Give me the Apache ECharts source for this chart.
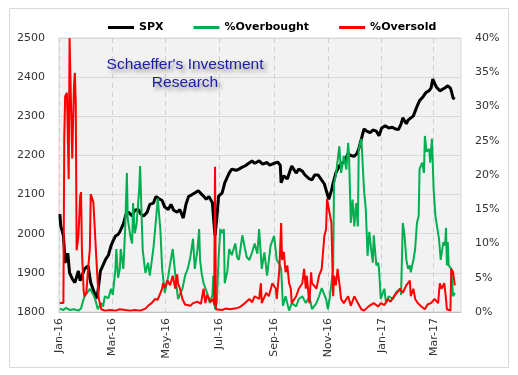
<!DOCTYPE html>
<html><head><meta charset="utf-8">
<script src="https://cdn.jsdelivr.net/npm/echarts@6/dist/echarts.min.js"></script>
<style>html,body{margin:0;padding:0;background:#fff}#c{width:518px;height:375px}</style>
</head><body><div id="c"></div>
<script>
// Days counted from 2016-01-01
const startDate = '2016-01-01';
const endDate = '2017-04-01';
const tickDates = ['2016-01-01','2016-03-01','2016-05-01','2016-07-01','2016-09-01','2016-11-01','2017-01-01','2017-03-01'];
const monthNames = ['Jan','Feb','Mar','Apr','May','Jun','Jul','Aug','Sep','Oct','Nov','Dec'];
const seriesNames = ['SPX','%Overbought','%Oversold'];

const spxDays = [1,2,5,7,8,10,12,15,18,22,24,26,29,33,36,40,42,44,47,50,53,56,59,61,64,67,69,73,76,79,83,86,90,93,96,100,103,107,110,113,117,120,124,127,130,134,137,141,144,147,151,154,158,160,163,167,170,174,176,177,179,181,185,188,193,196,201,204,208,211,214,219,222,227,231,236,239,244,248,251,252,255,259,262,264,267,269,272,276,279,284,287,290,294,297,301,304,306,309,311,314,318,321,324,328,331,335,338,340,343,346,349,353,356,360,363,366,370,374,378,381,385,388,390,394,396,398,402,405,407,409,413,416,420,422,424,426,428,432,434,438,441,444,445,447,449];
const spxValues = [2050,2020,1995,1925,1940,1950,1900,1885,1875,1905,1880,1875,1910,1918,1875,1850,1834,1850,1905,1920,1935,1945,1969,1980,1994,1998,2005,2025,2050,2055,2045,2060,2062,2050,2045,2055,2075,2078,2095,2090,2085,2068,2062,2075,2060,2055,2062,2040,2075,2095,2100,2104,2110,2112,2098,2088,2095,2079,2020,1995,2040,2096,2104,2130,2155,2165,2162,2165,2170,2173,2178,2186,2180,2186,2178,2182,2175,2180,2183,2175,2130,2148,2140,2160,2173,2162,2155,2165,2160,2150,2140,2138,2150,2150,2140,2127,2104,2088,2110,2130,2155,2173,2180,2185,2205,2200,2198,2205,2217,2242,2268,2262,2258,2265,2262,2250,2270,2276,2270,2272,2268,2266,2280,2296,2281,2290,2294,2301,2319,2330,2340,2350,2360,2366,2372,2395,2385,2375,2365,2370,2373,2378,2372,2365,2347,2344];

const overboughtDays = [1,5,8,12,17,22,25,27,29,33,35,39,41,44,48,50,52,56,59,61,64,65,67,69,70,73,75,77,78,81,83,84,86,88,91,92,94,95,98,101,103,107,109,111,112,115,117,120,124,126,129,132,135,137,140,143,146,149,152,154,157,159,160,162,164,168,171,174,175,177,179,181,183,185,187,188,191,193,196,200,202,204,208,211,213,216,219,222,225,227,230,233,236,238,240,244,247,250,252,254,257,261,264,269,272,276,280,284,287,292,295,298,301,303,305,307,311,312,314,318,320,322,323,326,328,329,331,333,335,337,339,340,343,346,348,350,352,354,356,357,360,362,363,365,369,371,374,379,382,387,388,390,392,394,396,398,399,402,404,406,408,409,412,414,415,417,420,421,423,425,427,431,433,436,438,439,440,441,442,445,447,449];
const overboughtValues = [0.5,0.3,0.6,0.3,0.4,0.2,0.5,1.5,2.3,3,3.4,2.5,1.9,0.4,1.3,0.8,2.3,2,3.4,2.5,6.3,9.2,5,6.3,9.2,6.3,12,20.3,13.6,11,10,15.9,11.5,12.8,18,21.3,12.8,9,5.7,7.2,5.3,9.2,12,15,16.6,12,6.3,2.8,5.3,7,9.2,5.3,1.9,2.5,3.4,5.3,6.3,8,10.7,6.3,9,12.1,7.6,5.5,4.2,2.8,1.3,2.5,5.3,0.4,1.3,8,12.1,11.5,12.1,4.2,6,9.2,8.3,10,8,7.6,11.2,9.2,8,7.6,8.7,10,8.5,12.1,6.3,8.7,5.3,7.5,9.7,11.1,7.6,7,6.3,0.9,2.3,0.2,1.3,0.8,1.9,2.3,1.3,2.3,0.4,1.3,2.3,3.5,2.5,1.9,0.4,2,6.3,18.8,19.9,24.2,20.3,21.8,22.8,20.8,24.7,22.8,13,16.4,12.5,15.9,12.5,23.8,25.3,17.8,15,8.2,11.7,9.2,7.2,11.2,6.8,7.2,6.3,1.9,3.4,1.3,2.3,1.9,2.8,3.4,2.5,13,11.1,7.6,6.3,6.8,5.8,7.6,9.2,13,14,20.9,21.8,20.3,25.7,23.4,23.8,21.8,25.3,17.8,14,10.7,7.6,10.2,9.7,12.3,6.8,10.2,6.8,6.3,2.3,2.8];

const oversoldDays = [1,5,6,7,9,11,12,14,15,17,18,19,20,22,24,25,26,28,29,31,33,35,36,39,40,41,43,45,47,48,52,58,64,69,75,81,86,92,98,101,105,109,112,117,118,120,123,126,129,132,134,135,137,140,143,149,152,157,161,164,166,168,170,172,175,176,177,178,180,185,189,194,199,203,206,211,216,219,222,227,229,230,235,238,242,246,247,250,252,253,255,257,259,261,263,264,269,272,276,278,280,281,284,286,287,292,295,298,301,303,304,306,309,311,312,314,316,318,320,323,328,331,335,339,343,346,352,357,362,365,369,373,376,380,382,387,390,394,398,399,402,404,407,411,415,418,422,426,430,432,434,437,439,440,444,445,447,449];
const oversoldValues = [1.3,1.3,25.7,31.5,32,19.4,40,28.2,22.4,33,34.9,30.5,9,11,16.9,17.5,9,3,2.3,2.8,6.3,9.2,17.2,16,15.9,16.1,6.3,2,1.9,0.4,0.2,0.3,0.2,0.4,0.3,0.2,0.3,0.2,0.5,0.9,1.3,1.9,1.8,3.4,4.2,3.5,4.6,3.9,5.3,3.4,5.5,4.2,3.5,1.9,1.1,0.9,1.3,1.5,1.2,3.4,1.3,2.5,2.3,1.5,1.9,1,21.2,0.4,0.3,0.3,0.5,0.4,0.5,0.6,0.8,1.3,1.9,1.4,2.3,1.9,4.2,1.3,2.8,2.3,4.2,3.4,1.9,6.3,13,7.6,8.8,5.8,6.8,4.2,3.4,1.3,2.3,3.4,4.2,6.3,3.4,5.3,1.3,5.8,4.2,3.4,5.3,6.3,11.1,12.1,16.5,16.5,13,2.3,5.3,3.9,6.3,4.2,1.9,1.3,2.3,0.9,2.3,1.3,0.4,0.2,0.9,1.3,0.8,1.3,1.0,1.9,1.5,2.3,2.3,3.4,2.8,3.9,4.6,2.3,3.4,1.9,1.3,0.8,0.4,1.1,1.3,1.9,1.3,4.2,3.4,4.2,1.9,0.4,0.2,6.3,5.8,3.9];

const DAY = 86400000;
const t0 = Date.parse(startDate);
const toPairs = (days, vals) => days.map((d, i) => [t0 + d * DAY, vals[i]]);
const tickValues = tickDates.map(s => Date.parse(s));

const chart = echarts.init(document.getElementById('c'), null, {renderer: 'canvas'});
const font = 'DejaVu Sans';
chart.setOption({
  animation: false,
  backgroundColor: '#ffffff',
  graphic: [
    {type: 'rect', z: -10, shape: {x: 9.5, y: 8.5, width: 499, height: 359}, style: {fill: '#ffffff', stroke: '#d9d9d9', lineWidth: 1}},
    {type: 'text', z: 100, x: 185, y: 74, style: {
      text: "Schaeffer's Investment\nResearch", align: 'center', verticalAlign: 'middle',
      fontFamily: 'Liberation Sans', fontSize: 15.5, lineHeight: 18, fill: '#1c1ca6',
      textShadowColor: 'rgba(0,0,0,0.45)', textShadowBlur: 4, textShadowOffsetX: 3, textShadowOffsetY: 3
    }}
  ],
  legend: {
    top: 17, left: 103, itemGap: 30, itemWidth: 26, itemHeight: 3, icon: 'rect',
    textStyle: {fontFamily: font, fontSize: 11, fontWeight: 'bold', color: '#000'},
    data: seriesNames
  },
  grid: {left: 59, right: 57, top: 38, bottom: 63, show: true, backgroundColor: '#f2f2f2', borderColor: '#d9d9d9', borderWidth: 1, containLabel: false},
  xAxis: {
    type: 'value', min: Date.parse(startDate), max: Date.parse(endDate), scale: true,
    axisLine: {show: true, onZero: false, lineStyle: {color: '#bfbfbf'}},
    axisTick: {show: false, customValues: tickValues},
    axisLabel: {customValues: tickValues, rotate: 90, margin: 6, fontFamily: font, fontSize: 11, color: '#333',
      formatter: v => { const d = new Date(v); return monthNames[d.getUTCMonth()] + '-' + String(d.getUTCFullYear()).slice(2); }},
    splitLine: {show: true, lineStyle: {color: '#cfcfcf', type: [5, 4], width: 1}}
  },
  yAxis: [
    {type: 'value', min: 1800, max: 2500, interval: 100,
      axisLine: {show: false}, axisTick: {show: false},
      axisLabel: {margin: 14, fontFamily: font, fontSize: 11, color: '#333', formatter: v => String(v)},
      splitLine: {show: true, lineStyle: {color: '#d9d9d9', width: 1}}},
    {type: 'value', min: 0, max: 40, interval: 5,
      axisLine: {show: false}, axisTick: {show: false},
      axisLabel: {margin: 14, fontFamily: font, fontSize: 11, color: '#333', formatter: v => v + '%'},
      splitLine: {show: false}}
  ],
  series: [
    {name: seriesNames[0], type: 'line', yAxisIndex: 0, showSymbol: false, symbol: 'none', color: '#000000',
      lineStyle: {width: 3, color: '#000000'}, data: toPairs(spxDays, spxValues)},
    {name: seriesNames[1], type: 'line', yAxisIndex: 1, showSymbol: false, symbol: 'none', color: '#00b050',
      lineStyle: {width: 2, color: '#00b050'}, data: toPairs(overboughtDays, overboughtValues)},
    {name: seriesNames[2], type: 'line', yAxisIndex: 1, showSymbol: false, symbol: 'none', color: '#ff0000',
      lineStyle: {width: 2, color: '#ff0000'}, data: toPairs(oversoldDays, oversoldValues)}
  ]
});
</script>
</body></html>
